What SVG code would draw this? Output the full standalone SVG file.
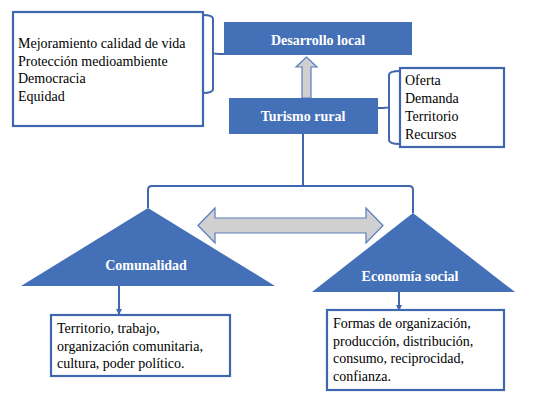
<svg xmlns="http://www.w3.org/2000/svg" width="533" height="400" viewBox="0 0 533 400">
<style>
.blue{fill:#4470B8;}
.box{fill:#fff;stroke:#3F66AE;stroke-width:2.2;}
.ln{fill:none;stroke:#3F66AE;stroke-width:2;}
.ga{fill:#D0D0D0;stroke:#5A7DBE;stroke-width:1.2;}
text{font-family:'Liberation Serif','Times New Roman','DejaVu Serif',serif;font-size:14px;}
.t{fill:#000;}
.w{font-weight:bold;fill:#fff;text-anchor:middle;}
</style>
<defs>
<marker id="ah" markerWidth="6" markerHeight="6" refX="5" refY="3" orient="auto" markerUnits="userSpaceOnUse">
<path d="M0,0 L6,3 L0,6 Z" fill="#3F66AE"/>
</marker>
</defs>
<g id="connectors">
<path class="ln" d="M203,15 Q213,15 213,19 L213,89 Q213,93 203,93 M213,53 Q213,54 224,54"/>
<path class="ln" d="M400,71 Q389,71 389,75 L389,140 Q389,144 400,144 M389,107 Q389,108 378,108"/>
<path class="ln" d="M303,134 L303,186 M148,208 L148,190 Q148,186 152,186 L409,186 Q413,186 413,190 L413,213"/>
<path class="ga" d="M302,98 L302,67 L296,67 L306.5,57 L317,67 L311,67 L311,98 Z"/>
<path class="ga" d="M198,225.5 L215,208 L215,218 L366,218 L366,208 L383,225.5 L366,243 L366,233 L215,233 L215,243 Z"/>
<line class="ln" x1="119" y1="286" x2="119" y2="314" marker-end="url(#ah)"/>
<line class="ln" x1="399" y1="292" x2="399" y2="310" marker-end="url(#ah)"/>
</g>
<g id="left-box">
<rect class="box" x="13" y="12" width="190" height="114"/>
<text class="t" x="18" y="48">Mejoramiento calidad de vida</text>
<text class="t" x="18" y="65.5">Protección medioambiente</text>
<text class="t" x="18" y="83">Democracia</text>
<text class="t" x="18" y="100.5">Equidad</text>
</g>
<g id="desarrollo-local">
<rect class="blue" x="224" y="22" width="188" height="33"/>
<text class="w" x="318" y="45">Desarrollo local</text>
</g>
<g id="turismo-rural">
<rect class="blue" x="229" y="98" width="149" height="36"/>
<text class="w" x="303" y="121">Turismo rural</text>
</g>
<g id="right-box">
<rect class="box" x="400" y="68" width="104" height="79"/>
<text class="t" x="405" y="85">Oferta</text>
<text class="t" x="405" y="103">Demanda</text>
<text class="t" x="405" y="121">Territorio</text>
<text class="t" x="405" y="138.5">Recursos</text>
</g>
<g id="comunalidad">
<polygon class="blue" points="148,208 21,286 275,286"/>
<text class="w" x="146" y="270">Comunalidad</text>
</g>
<g id="economia-social">
<polygon class="blue" points="413,213 312,292 515,292"/>
<text class="w" x="410" y="281">Economía social</text>
</g>
<g id="comunalidad-box">
<rect class="box" x="51" y="315" width="179" height="61"/>
<text class="t" x="57" y="333">Territorio, trabajo,</text>
<text class="t" x="57" y="350.5">organización comunitaria,</text>
<text class="t" x="57" y="367.5">cultura, poder político.</text>
</g>
<g id="economia-box">
<rect class="box" x="327" y="310" width="177" height="80"/>
<text class="t" x="333" y="328">Formas de organización,</text>
<text class="t" x="333" y="345.5">producción, distribución,</text>
<text class="t" x="333" y="363">consumo, reciprocidad,</text>
<text class="t" x="333" y="380.5">confianza.</text>
</g>
</svg>
